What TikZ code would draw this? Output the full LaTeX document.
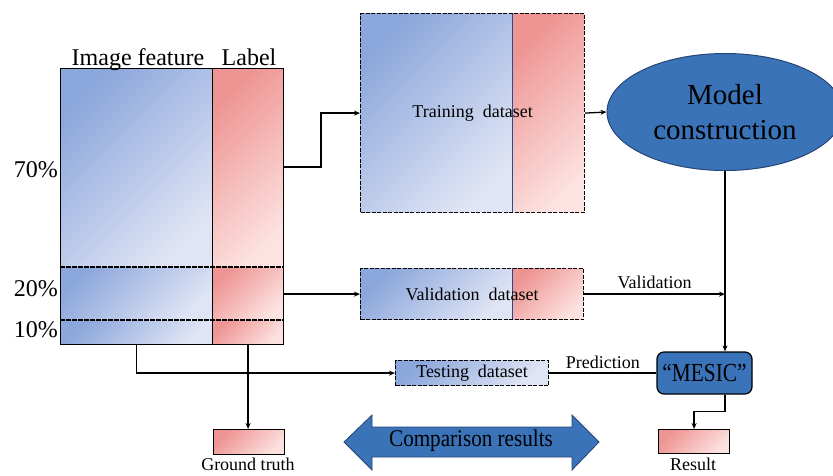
\documentclass[tikz,border=0pt]{standalone}
\usepackage{fontspec}
\setmainfont{Liberation Serif}
\usetikzlibrary{shapes.geometric,arrows.meta,calc}

\definecolor{bluedark}{RGB}{140,167,219}
\definecolor{bluelight}{RGB}{224,229,245}
\definecolor{reddark}{RGB}{238,148,146}
\definecolor{redlight}{RGB}{252,226,224}
\definecolor{nodeblue}{RGB}{58,115,184}
\definecolor{nodeedge}{RGB}{38,68,118}
\definecolor{splitblue}{RGB}{36,78,140}

\begin{document}
\begin{tikzpicture}[x=1pt,y=-1pt,
  bluegrad/.style={top color=bluedark,bottom color=bluelight,shading angle=45},
  redgrad/.style={top color=reddark,bottom color=redlight,shading angle=45},
  cell/.style={rectangle,inner sep=0pt,anchor=north west},
  frame/.style={cell,draw=black,line width=1.2pt},
  dashframe/.style={cell,draw=black,line width=1.2pt,dash pattern=on 4pt off 1.5pt},
  sep/.style={draw=black,line width=1.3pt,dash pattern=on 5pt off 1pt},
  conn/.style={draw=black,line width=1.3pt},
  arr/.style={conn,-{Stealth[length=6pt,width=5pt]}},
  big/.style={font=\fontsize{24}{28}\selectfont},
  small/.style={font=\fontsize{18}{21}\selectfont},
]
\clip (0,0) rectangle (833,475);

% ---- full data set: image features and labels, split 70/20/10 ----
\shade[bluegrad] (60,68) rectangle (212,267);
\shade[bluegrad] (60,267) rectangle (212,320);
\shade[bluegrad] (60,320) rectangle (212,344);
\shade[redgrad] (212,68) rectangle (283,267);
\shade[redgrad] (212,267) rectangle (283,320);
\shade[redgrad] (212,320) rectangle (283,344);
\node[frame,minimum width=152pt,minimum height=276pt] (feat) at (60,68) {};
\node[frame,minimum width=71pt,minimum height=276pt] (lab) at (212,68) {};
\draw[sep] (60,267) -- (283,267);
\draw[sep] (60,320) -- (283,320);

\node[big,anchor=base] (hfeat) at (138,65) {Image feature};
\node[big,anchor=base] (hlab) at (249,65) {Label};
\node[big,anchor=east,inner sep=0pt] (p70) at (58,170) {70\%};
\node[big,anchor=east,inner sep=0pt] (p20) at (58,289) {20\%};
\node[big,anchor=east,inner sep=0pt] (p10) at (58,330) {10\%};

% ---- training set ----
\node[cell,bluegrad,minimum width=152pt,minimum height=199pt] (trainF) at (360,13) {};
\node[cell,redgrad,minimum width=72pt,minimum height=199pt] (trainL) at (512,13) {};
\draw[splitblue,line width=1.2pt] (trainF.north east) -- (trainF.south east);
\node[dashframe,small,minimum width=224pt,minimum height=199pt] (train) at (360,13) {Training\ \ dataset};

% ---- validation set ----
\node[cell,bluegrad,minimum width=152pt,minimum height=51pt] (valF) at (360,268) {};
\node[cell,redgrad,minimum width=71pt,minimum height=51pt] (valL) at (512,268) {};
\draw[splitblue,line width=1.2pt] (valF.north east) -- (valF.south east);
\node[dashframe,small,minimum width=223pt,minimum height=51pt] (val) at (360,268) {Validation\ \ dataset};

% ---- testing set ----
\node[dashframe,bluegrad,small,minimum width=153pt,minimum height=25pt] (test) at (395,360) {Testing\ \ dataset};

% ---- model and classifier ----
\node[ellipse,fill=nodeblue,draw=nodeedge,line width=1pt,inner sep=0pt,
      minimum width=236pt,minimum height=117pt,align=center,
      font=\fontsize{29}{35}\selectfont] (model) at (725,112) {Model\\construction};
\node[rectangle,rounded corners=7pt,fill=nodeblue,draw=black,line width=1.2pt,
      minimum width=95pt,minimum height=42pt,inner sep=0pt,font=\fontsize{26}{30}\selectfont] (mesic) at (704.5,373)
      {\scalebox{0.82}[1]{“MESIC”}};

% ---- outputs ----
\node[frame,redgrad,minimum width=71pt,minimum height=25pt] (gt) at (213,429) {};
\node[small] (gtname) at (248,464) {Ground truth};
\node[frame,redgrad,minimum width=71pt,minimum height=24pt] (res) at (658,429) {};
\node[small] (resname) at (693,464) {Result};

% ---- comparison double arrow ----
\filldraw[fill=nodeblue,draw=nodeedge,line width=0.8pt]
  (344,442) -- (372,415) -- (372,427) -- (572,427) -- (572,415) -- (599,442)
  -- (572,470) -- (572,457) -- (372,457) -- (372,470) -- cycle;
\node[big] (cmp) at (471,441) {\scalebox{0.88}[1]{Comparison results}};

% ---- connectors ----
\coordinate (outTrain) at (283,167);
\draw[arr] (outTrain) -- ++(38,0) |- (train.west);
\draw[arr] (lab.east |- val.west) -- (val.west);
\draw[arr] (train.east) -- (model.west);
\draw[arr] (val.east) -- (val.east -| model.south)
  node[small,midway,above=1pt] (vlabel) {Validation};
\draw[arr] (model.south) -- (model.south |- mesic.north);
\draw[arr] (feat.south) |- (test.west);
\draw[arr] (lab.south) -- (lab.south |- gt.north);
\draw[conn] (test.east) -- (test.east -| mesic.west)
  node[small,midway,above=0pt] (plabel) {Prediction};
\draw[arr] (model.south |- mesic.south) -- ++(0,17) -| (res.north);
\end{tikzpicture}
\end{document}
